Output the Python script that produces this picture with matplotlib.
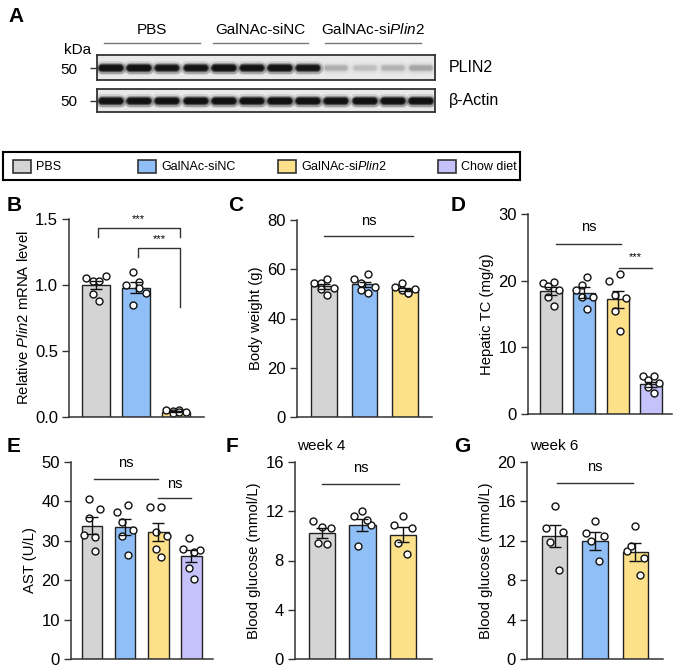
import matplotlib.pyplot as plt
from matplotlib.patches import Rectangle
import numpy as np

plt.rcParams['font.family'] = ['Liberation Sans', 'DejaVu Sans']
plt.rcParams['mathtext.fontset'] = 'custom'
plt.rcParams['mathtext.rm'] = 'Liberation Sans'
plt.rcParams['mathtext.it'] = 'Liberation Sans:italic'

W, H = 678, 669

legend_labels = ['PBS', 'GalNAc-siNC', r'GalNAc-si$\mathit{Plin2}$', 'Chow diet']
colors = ['#d4d4d4', '#90bff7', '#fde08a', '#c5c2fb']

# western blot band intensities (0-1), 12 lanes
plin2_band = [0.95, 0.93, 0.80, 0.85, 0.95, 0.85, 0.93, 0.80, 0.10, 0.07, 0.09, 0.12]
actin_band = [0.95, 0.93, 0.93, 0.95, 0.97, 0.95, 1.00, 0.97, 0.95, 0.97, 0.97, 0.97]
blot_groups = ['PBS', 'GalNAc-siNC', r'GalNAc-si$\mathit{Plin2}$']

# B: relative Plin2 mRNA
b_mean = [1.00, 0.98, 0.04]
b_sem = [0.03, 0.04, 0.005]
b_pts = [[1.05, 1.03, 1.03, 1.07, 0.93, 0.88],
         [1.00, 1.10, 1.02, 0.94, 0.85, 0.98],
         [0.05, 0.045, 0.05, 0.04, 0.03, 0.04]]

# C: body weight
c_mean = [53.0, 53.9, 51.8]
c_sem = [0.9, 1.1, 0.6]
c_pts = [[54.6, 54.3, 56.2, 52.5, 52.1, 49.7],
         [56.2, 54.6, 58.0, 52.8, 51.6, 50.5],
         [52.8, 54.3, 50.2, 52.1, 51.6, 50.5]]

# D: hepatic TC
d_mean = [18.5, 18.2, 17.2, 4.45]
d_sem = [0.6, 0.8, 1.3, 0.4]
d_pts = [[19.7, 19.2, 19.8, 18.6, 17.6, 16.2],
         [18.6, 19.3, 20.5, 17.6, 17.5, 15.8],
         [20.0, 17.8, 21.0, 17.4, 15.5, 12.5],
         [5.7, 5.1, 5.7, 4.6, 4.1, 3.2]]

# E: AST
e_mean = [33.8, 33.5, 32.2, 26.2]
e_sem = [2.2, 2.1, 2.2, 1.5]
e_pts = [[31.4, 40.7, 31.0, 38.1, 35.9, 27.4],
         [37.3, 34.8, 39.0, 32.7, 31.2, 26.3],
         [38.6, 32.2, 38.6, 31.2, 28.0, 25.9],
         [27.8, 30.8, 27.2, 27.6, 23.0, 20.3]]

# F: blood glucose week 4
f_mean = [10.2, 10.9, 10.1]
f_sem = [0.4, 0.5, 0.6]
f_pts = [[11.2, 10.7, 10.6, 9.4, 9.35],
         [11.6, 12.0, 10.9, 9.2, 11.3],
         [10.9, 11.6, 10.6, 9.4, 8.5]]

# G: blood glucose week 6
g_mean = [12.5, 12.0, 10.9]
g_sem = [1.1, 0.9, 0.9]
g_pts = [[13.3, 15.5, 12.9, 11.9, 9.0],
         [12.8, 14.0, 12.5, 12.0, 9.9],
         [11.0, 13.5, 10.3, 11.5, 8.5]]

fig = plt.figure(figsize=(W / 100, H / 100), dpi=100)


def px_axes(x0, y0, x1, y1):
    return fig.add_axes([x0 / W, 1 - y1 / H, (x1 - x0) / W, (y1 - y0) / H])


def ftext(x, y, s, **kw):
    fig.text(x / W, 1 - y / H, s, **kw)


# ---------- panel A: western blot ----------
ftext(8, 16, 'A', fontsize=15, fontweight='bold', va='center')
ftext(64, 50, 'kDa', fontsize=11, va='center')
line_spans = [(104, 200), (213, 308), (325, 421)]
for (xa, xb), name in zip(line_spans, blot_groups):
    ftext((xa + xb) / 2, 30, name, fontsize=11, ha='center', va='center')
    fig.add_artist(plt.Line2D([xa / W, xb / W], [1 - 43 / H] * 2, color='#777', lw=1))


def blot(box, bands, band_y, label):
    ax = px_axes(*box)
    ax.set_facecolor('#e9e9e9')
    ax.set_xlim(0, 12)
    ax.set_ylim(0, 1)
    for i, v in enumerate(bands):
        xs = [i + 0.5 - 0.32, i + 0.5 + 0.32]
        for lw, a in [(10, 0.12), (8, 0.25), (6, 0.55), (4.5, 0.9), (3, 1.0)]:
            ax.plot(xs, [band_y, band_y], color='#111', lw=lw, alpha=a * v,
                    solid_capstyle='round')
    ax.set_xticks([])
    ax.set_yticks([band_y])
    ax.set_yticklabels(['50'], fontsize=11)
    ax.tick_params(axis='y', length=5, width=1, pad=9, color='#333')
    for sp in ax.spines.values():
        sp.set_color('#333')
        sp.set_linewidth(1.3)
    ftext(449, (box[1] + box[3]) / 2, label, fontsize=11.5, va='center')


blot((97, 55, 435, 80), plin2_band, 0.47, 'PLIN2')
blot((97, 89, 435, 112), actin_band, 0.50, 'β-Actin')

# ---------- legend box ----------
lax = px_axes(3, 152, 520, 180)
lax.set_xlim(3, 520)
lax.set_ylim(180, 152)
lax.set_xticks([])
lax.set_yticks([])
for sp in lax.spines.values():
    sp.set_linewidth(1.5)
for xs, lab, col in zip([13, 138, 278, 438], legend_labels, colors):
    lax.add_patch(Rectangle((xs, 160), 18, 13, facecolor=col, edgecolor='#333', lw=1.2))
    lax.text(xs + 23, 166.5, lab, fontsize=9, va='center')


# ---------- bar panels ----------
pat6 = [-0.25, -0.08, 0.08, 0.25, -0.08, 0.08]
pat5 = [-0.22, 0.0, 0.22, -0.11, 0.11]


def bar_panel(box, means, sems, pts, xlim, width, ylim, yticks, ylabel, fmt='{:g}'):
    ax = px_axes(*box)
    n = len(means)
    x = np.arange(n)
    ax.bar(x, means, width, color=colors[:n], edgecolor='#222', linewidth=1, zorder=1)
    for i in range(n):
        pat = pat6 if len(pts[i]) == 6 else pat5
        ax.plot(i + np.array(pat[:len(pts[i])]), pts[i], 'o', mfc='white', mec='#111',
                ms=5.0, mew=1, zorder=2, clip_on=False)
    ax.errorbar(x, means, yerr=sems, fmt='none', ecolor='#111', elinewidth=1,
                capsize=4, capthick=1, zorder=3)
    ax.set_xlim(*xlim)
    ax.set_ylim(*ylim)
    ax.set_yticks(yticks)
    ax.set_yticklabels([fmt.format(t) for t in yticks], fontsize=12)
    ax.set_xticks([])
    ax.set_ylabel(ylabel, fontsize=10.7, labelpad=3)
    for s in ['top', 'right']:
        ax.spines[s].set_visible(False)
    for s in ['left', 'bottom']:
        ax.spines[s].set_linewidth(1.1)
        ax.spines[s].set_color('#333')
    ax.tick_params(axis='y', length=5, width=1, color='#333', pad=3)
    return ax


def sig_line(ax, x0, x1, y, text, ty, fs=10.5):
    ax.plot([x0, x1], [y, y], color='#333', lw=1, clip_on=False)
    ax.text((x0 + x1) / 2, ty, text, ha='center', va='center', fontsize=fs)


# B
ax = bar_panel((69, 219, 204, 417), b_mean, b_sem, b_pts, (-0.675, 2.7), 0.68,
               (0, 1.5), [0, 0.5, 1.0, 1.5], r'Relative $\mathit{Plin2}$ mRNA level', '{:.1f}')
ax.plot([0.05, 0.05, 2.1, 2.1], [1.36, 1.43, 1.43, 1.36], color='#333', lw=1, clip_on=False)
ax.text(1.07, 1.50, '***', ha='center', va='center', fontsize=8)
ax.plot([1.05, 1.05, 2.1, 2.1], [1.21, 1.28, 1.28, 0.83], color='#333', lw=1, clip_on=False)
ax.text(1.58, 1.35, '***', ha='center', va='center', fontsize=8)
ftext(7, 205, 'B', fontsize=15, fontweight='bold', va='center')

# C
ax = bar_panel((297, 220, 432, 417), c_mean, c_sem, c_pts, (-0.67, 2.67), 0.64,
               (0, 80), [0, 20, 40, 60, 80], 'Body weight (g)')
sig_line(ax, 0.0, 2.2, 73.5, 'ns', 79.5)
ftext(228, 205, 'C', fontsize=15, fontweight='bold', va='center')

# D
ax = bar_panel((528, 214, 672, 414), d_mean, d_sem, d_pts, (-0.69, 3.63), 0.66,
               (0, 30), [0, 10, 20, 30], 'Hepatic TC (mg/g)')
sig_line(ax, 0.15, 2.1, 25.5, 'ns', 28.0)
sig_line(ax, 2.03, 3.03, 21.9, '***', 23.5, fs=8)
ftext(451, 205, 'D', fontsize=15, fontweight='bold', va='center')

# E
ax = bar_panel((71, 462, 213, 659), e_mean, e_sem, e_pts, (-0.63, 3.65), 0.62,
               (0, 50), [0, 10, 20, 30, 40, 50], 'AST (U/L)')
sig_line(ax, 0.06, 1.99, 45.8, 'ns', 49.8)
sig_line(ax, 2.0, 3.0, 40.8, 'ns', 44.3)
ftext(7, 446, 'E', fontsize=15, fontweight='bold', va='center')

# F
ax = bar_panel((295, 462, 432, 659), f_mean, f_sem, f_pts, (-0.67, 2.72), 0.65,
               (0, 16), [0, 4, 8, 12, 16], 'Blood glucose (mmol/L)')
sig_line(ax, 0.0, 1.9, 14.2, 'ns', 15.5)
ftext(297, 446, 'week 4', fontsize=11, va='center')
ftext(226, 446, 'F', fontsize=15, fontweight='bold', va='center')

# G
ax = bar_panel((527, 462, 663, 659), g_mean, g_sem, g_pts, (-0.68, 2.68), 0.63,
               (0, 20), [0, 4, 8, 12, 16, 20], 'Blood glucose (mmol/L)')
sig_line(ax, 0.06, 1.94, 17.9, 'ns', 19.5)
ftext(530, 446, 'week 6', fontsize=11, va='center')
ftext(454, 446, 'G', fontsize=15, fontweight='bold', va='center')

fig.savefig('out.png', dpi=100)
